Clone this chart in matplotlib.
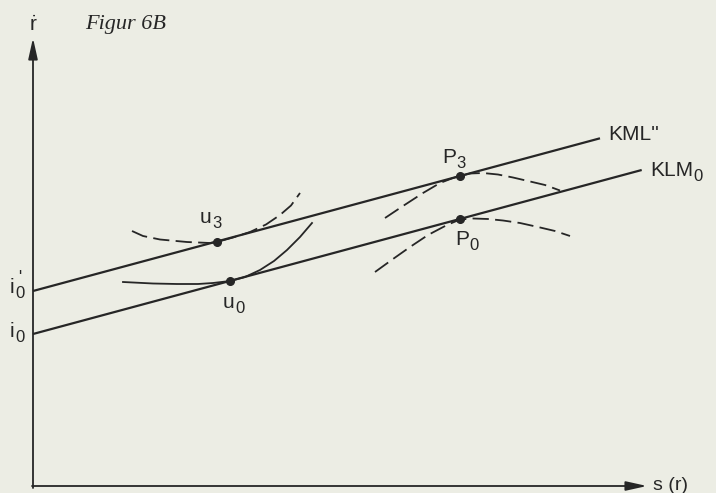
import matplotlib
matplotlib.use("Agg")
import matplotlib.pyplot as plt

plt.rcParams['font.family'] = ['Liberation Sans', 'DejaVu Sans']
plt.rcParams['mathtext.default'] = 'regular'

# ---- data (s horizontal, r-dot vertical; arbitrary units) ----
kml_s = [0, 567]
kml_r = [198, 350.7]
klm_s = [0, 608.7]
klm_r = [155, 319]

u3_curve_s = [99, 110, 127, 154, 177, 184, 200, 217, 233, 247, 258, 267]
u3_curve_r = [258, 253, 249.5, 247, 246, 247, 251.5, 257, 264.5, 274, 283.5, 296]

u0_curve_s = [90, 120, 144, 165, 180, 197, 212, 227, 241, 254, 267, 279]
u0_curve_r = [207, 205.5, 205, 205, 206, 208, 212, 219, 228, 239, 252, 266]

p3_curve_s = [352, 370, 390, 407, 420, 427, 437, 450, 465, 480, 495, 512, 527]
p3_curve_r = [271, 283, 296, 306, 311, 313, 315.5, 316, 314.5, 311.5, 308, 304, 298.5]

p0_curve_s = [342, 360, 377, 395, 414, 427, 440, 455, 470, 487, 505, 522, 537]
p0_curve_r = [217, 230, 242, 254, 264, 269.5, 270.5, 270, 268.5, 266, 262, 258, 253]

point_names = ['u3', 'u0', 'P3', 'P0']
point_s = [184, 197, 427, 427]
point_r = [247, 208, 313, 270]

ink = '#262626'
paper = '#ecede4'

fig = plt.figure(figsize=(7.16, 4.93), dpi=100, facecolor=paper)
ax = fig.add_axes([0, 0, 1, 1])
ax.set_facecolor(paper)
ax.set_xlim(-33, 683)
ax.set_ylim(-4, 489)
ax.axis('off')

# axes with arrows
arrow_kw = dict(arrowstyle='-|>,head_length=0.9,head_width=0.2', lw=1.3,
                color=ink, mutation_scale=14, shrinkA=0, shrinkB=0)
ax.annotate('', xy=(0, 451), xytext=(0, 1), arrowprops=arrow_kw)
ax.annotate('', xy=(614, 3), xytext=(-1, 3), arrowprops=arrow_kw)

# straight lines
ax.plot(kml_s, kml_r, color=ink, lw=1.6, solid_capstyle='butt')
ax.plot(klm_s, klm_r, color=ink, lw=1.6, solid_capstyle='butt')

# curves
dash = (0, (9, 3.5))
ax.plot(u3_curve_s, u3_curve_r, color=ink, lw=1.3, linestyle=dash)
ax.plot(u0_curve_s, u0_curve_r, color=ink, lw=1.3)
ax.plot(p3_curve_s, p3_curve_r, color=ink, lw=1.3, linestyle=dash)
ax.plot(p0_curve_s, p0_curve_r, color=ink, lw=1.3, linestyle=dash)

# points
ax.plot(point_s, point_r, 'o', color=ink, markersize=5.5)

FS = 15
SFS = 12


def label(x, y, main, sub=None, prime=False):
    t = ax.text(x, y, main, ha='left', va='baseline', fontsize=FS, color=ink)
    if sub is not None:
        s = ax.annotate(sub, xy=(1, 0), xycoords=t, xytext=(0.3, -3),
                        textcoords='offset points', ha='left', va='bottom',
                        fontsize=SFS, color=ink)
        if prime:
            ax.annotate("'", xy=(0.5, 1), xycoords=s, xytext=(0, 1),
                        textcoords='offset points', ha='center', va='bottom',
                        fontsize=SFS, color=ink)
    return t


ax.text(0, 458, r'$\dot{r}$', ha='center', va='baseline', fontsize=FS, color=ink)
ax.text(52, 464, 'Figur 6B', ha='left', va='center', fontsize=16, color=ink,
        family=['Liberation Serif'], style='italic')
ax.text(575, 354, "KML''", ha='left', va='center', fontsize=FS, color=ink)
label(617, 313, 'KLM', '0')
label(167, 265.7, 'u', '3')
label(190, 181, 'u', '0')
label(409, 326, 'P', '3')
label(422, 244, 'P', '0')
label(-23, 196, 'i', '0', prime=True)
label(-23, 152, 'i', '0')
ax.text(620, 3, 's (r)', ha='left', va='center', fontsize=14, color=ink)

fig.savefig('out.png', dpi=100, facecolor=paper)
